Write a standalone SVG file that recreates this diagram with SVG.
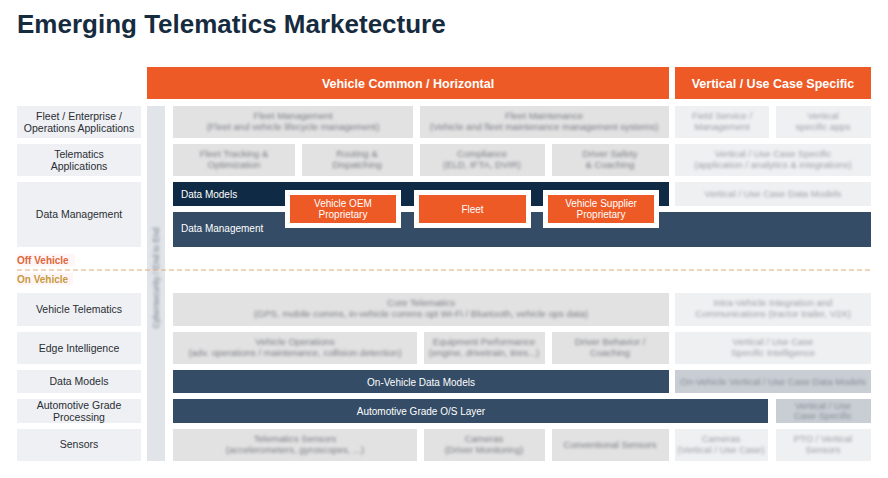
<svg xmlns="http://www.w3.org/2000/svg" width="888" height="478" viewBox="0 0 888 478">
<defs>
<filter id="blur" x="-10%" y="-40%" width="120%" height="180%"><feGaussianBlur stdDeviation="1.6"/></filter>
<filter id="soft" x="-5%" y="-20%" width="110%" height="140%"><feGaussianBlur stdDeviation="0.6"/></filter>
<style>
text{font-family:"Liberation Sans",Arial,sans-serif}
.title{font-size:26px;font-weight:bold;fill:#172b3f}
.hdr{fill:#ee5a26}
.hdrt{font-size:12.5px;font-weight:bold;fill:#fff;text-anchor:middle}
.lab{fill:#eef0f3}
.labt{font-size:10.5px;fill:#2a2e33;text-anchor:middle}
.cell{fill:#e2e2e3}
.cellt{font-size:9.5px;fill:#7a7c80;text-anchor:middle}
.rcell{fill:#eff0f2}
.rcellt{font-size:9.5px;fill:#989da4;text-anchor:middle}
.gcell{fill:#c9ced4}
.gcellt{font-size:9.5px;fill:#848b93;text-anchor:middle}
.dark{fill:#0f2a44}
.mid{fill:#344c65}
.barT{font-size:10px;fill:#fff}
.barC{font-size:10px;fill:#fff;text-anchor:middle}
.wbox{fill:#fff}
.obox{fill:#ee5a26}
.obt{font-size:10px;fill:#fff;text-anchor:middle}
</style>
</defs>
<rect width="888" height="478" fill="#fff"/>
<text class="title" x="17" y="33">Emerging Telematics Marketecture</text>

<g id="hdr-common"><rect class="hdr" x="147" y="67" width="522" height="32"/><text class="hdrt" x="408" y="87.5">Vehicle Common / Horizontal</text></g>
<g id="hdr-vertical"><rect class="hdr" x="675" y="67" width="196" height="32"/><text class="hdrt" x="773" y="87.5">Vertical / Use Case Specific</text></g>

<!-- left labels -->
<g id="lab-fleet"><rect class="lab" x="17" y="106" width="124" height="32"/><text class="labt" x="79" y="119.5">Fleet / Enterprise /</text><text class="labt" x="79" y="131.5">Operations Applications</text></g>
<g id="lab-telapps"><rect class="lab" x="17" y="144" width="124" height="32"/><text class="labt" x="79" y="157.5">Telematics</text><text class="labt" x="79" y="169.5">Applications</text></g>
<g id="lab-dm"><rect class="lab" x="17" y="182" width="124" height="65"/><text class="labt" x="79" y="218">Data Management</text></g>
<g id="lab-vt"><rect class="lab" x="17" y="293" width="124" height="33"/><text class="labt" x="79" y="313">Vehicle Telematics</text></g>
<g id="lab-edge"><rect class="lab" x="17" y="332" width="124" height="32"/><text class="labt" x="79" y="351.5">Edge Intelligence</text></g>
<g id="lab-dmod"><rect class="lab" x="17" y="370" width="124" height="23"/><text class="labt" x="79" y="385">Data Models</text></g>
<g id="lab-agp"><rect class="lab" x="17" y="399" width="124" height="24"/><text class="labt" x="79" y="409">Automotive Grade</text><text class="labt" x="79" y="420.5">Processing</text></g>
<g id="lab-sens"><rect class="lab" x="17" y="429" width="124" height="32"/><text class="labt" x="79" y="447.5">Sensors</text></g>

<!-- vertical security bar -->
<g id="secbar"><rect x="147" y="106" width="18" height="355" fill="#e1e5ea"/><text filter="url(#blur)" transform="translate(159,278) rotate(-90)" style="font-size:8.5px;fill:#6f7782;text-anchor:middle">Cybersecurity / End to End</text></g>

<!-- off/on vehicle -->
<g id="divider">
<rect x="17" y="254" width="58" height="12" fill="#fef6f6"/>
<rect x="17" y="273" width="56" height="12" fill="#fef6f6"/>
<text x="17" y="264" style="font-size:10px;font-weight:bold;fill:#e0653a">Off Vehicle</text>
<line x1="17" y1="270" x2="871" y2="270" stroke="#e2a879" stroke-width="1" stroke-dasharray="5,3"/>
<text x="17" y="283" style="font-size:10px;font-weight:bold;fill:#c89a3f">On Vehicle</text>
</g>

<!-- row 1 -->
<g id="c-fleetmgmt" filter="url(#soft)"><rect class="cell" x="173" y="106" width="240" height="32"/><text class="cellt" filter="url(#blur)" x="293" y="119">Fleet Management</text><text class="cellt" filter="url(#blur)" x="293" y="130">(Fleet and vehicle lifecycle management)</text></g>
<g id="c-fleetmaint" filter="url(#soft)"><rect class="cell" x="420" y="106" width="249" height="32"/><text class="cellt" filter="url(#blur)" x="544" y="119">Fleet Maintenance</text><text class="cellt" filter="url(#blur)" x="544" y="130">(Vehicle and fleet maintenance management systems)</text></g>
<g id="c-fieldsvc" filter="url(#soft)"><rect class="rcell" x="675" y="106" width="94" height="32"/><text class="rcellt" filter="url(#blur)" x="722" y="119">Field Service /</text><text class="rcellt" filter="url(#blur)" x="722" y="130">Management</text></g>
<g id="c-vertapps" filter="url(#soft)"><rect class="rcell" x="776" y="106" width="95" height="32"/><text class="rcellt" filter="url(#blur)" x="823" y="119">Vertical</text><text class="rcellt" filter="url(#blur)" x="823" y="130">specific apps</text></g>

<!-- row 2 -->
<g id="c-tracking" filter="url(#soft)"><rect class="cell" x="173" y="144" width="122" height="32"/><text class="cellt" filter="url(#blur)" x="234" y="157">Fleet Tracking &amp;</text><text class="cellt" filter="url(#blur)" x="234" y="168">Optimization</text></g>
<g id="c-routing" filter="url(#soft)"><rect class="cell" x="302" y="144" width="111" height="32"/><text class="cellt" filter="url(#blur)" x="357" y="157">Routing &amp;</text><text class="cellt" filter="url(#blur)" x="357" y="168">Dispatching</text></g>
<g id="c-compliance" filter="url(#soft)"><rect class="cell" x="420" y="144" width="125" height="32"/><text class="cellt" filter="url(#blur)" x="482" y="157">Compliance</text><text class="cellt" filter="url(#blur)" x="482" y="168">(ELD, IFTA, DVIR)</text></g>
<g id="c-driversafety" filter="url(#soft)"><rect class="cell" x="552" y="144" width="117" height="32"/><text class="cellt" filter="url(#blur)" x="610" y="157">Driver Safety</text><text class="cellt" filter="url(#blur)" x="610" y="168">&amp; Coaching</text></g>
<g id="c-vertapp2" filter="url(#soft)"><rect class="rcell" x="675" y="144" width="196" height="32"/><text class="rcellt" filter="url(#blur)" x="773" y="157">Vertical / Use Case Specific</text><text class="rcellt" filter="url(#blur)" x="773" y="168">(application / analytics &amp; integrations)</text></g>

<!-- row 3 data -->
<g id="b-datamodels"><rect class="dark" x="173" y="182" width="496" height="24"/><text class="barT" x="181" y="198">Data Models</text></g>
<g id="c-vertdm" filter="url(#soft)"><rect class="rcell" x="675" y="182" width="196" height="24"/><text class="rcellt" filter="url(#blur)" x="773" y="197">Vertical / Use Case Data Models</text></g>
<g id="b-datamgmt"><rect class="mid" x="173" y="212" width="698" height="35"/><text class="barT" x="181" y="232">Data Management</text></g>
<g id="o-oem"><rect class="wbox" x="285" y="190" width="116" height="38"/><rect class="obox" x="290" y="195" width="106" height="28"/><text class="obt" x="343" y="207">Vehicle OEM</text><text class="obt" x="343" y="217.5">Proprietary</text></g>
<g id="o-fleet"><rect class="wbox" x="414" y="190" width="117" height="38"/><rect class="obox" x="419" y="195" width="107" height="28"/><text class="obt" x="472.5" y="212.5">Fleet</text></g>
<g id="o-supplier"><rect class="wbox" x="543" y="190" width="116" height="38"/><rect class="obox" x="548" y="195" width="106" height="28"/><text class="obt" x="601" y="207">Vehicle Supplier</text><text class="obt" x="601" y="217.5">Proprietary</text></g>

<!-- row 4 -->
<g id="c-core" filter="url(#soft)"><rect class="cell" x="173" y="293" width="496" height="33"/><text class="cellt" filter="url(#blur)" x="421" y="306">Core Telematics</text><text class="cellt" filter="url(#blur)" x="421" y="317">(GPS, mobile comms, in-vehicle comms opt Wi-Fi / Bluetooth, vehicle ops data)</text></g>
<g id="c-intra" filter="url(#soft)"><rect class="rcell" x="675" y="293" width="196" height="33"/><text class="rcellt" filter="url(#blur)" x="773" y="306">Intra-Vehicle Integration and</text><text class="rcellt" filter="url(#blur)" x="773" y="317">Communications (tractor trailer, V2X)</text></g>

<!-- row 5 -->
<g id="c-vehops" filter="url(#soft)"><rect class="cell" x="173" y="332" width="244" height="32"/><text class="cellt" filter="url(#blur)" x="295" y="345">Vehicle Operations</text><text class="cellt" filter="url(#blur)" x="295" y="356">(adv. operations / maintenance, collision detection)</text></g>
<g id="c-equip" filter="url(#soft)"><rect class="cell" x="424" y="332" width="121" height="32"/><text class="cellt" filter="url(#blur)" x="484" y="345">Equipment Performance</text><text class="cellt" filter="url(#blur)" x="484" y="356">(engine, drivetrain, tires...)</text></g>
<g id="c-driverbeh" filter="url(#soft)"><rect class="cell" x="552" y="332" width="117" height="32"/><text class="cellt" filter="url(#blur)" x="610" y="345">Driver Behavior /</text><text class="cellt" filter="url(#blur)" x="610" y="356">Coaching</text></g>
<g id="c-vertintel" filter="url(#soft)"><rect class="rcell" x="675" y="332" width="196" height="32"/><text class="rcellt" filter="url(#blur)" x="773" y="345">Vertical / Use Case</text><text class="rcellt" filter="url(#blur)" x="773" y="356">Specific Intelligence</text></g>

<!-- row 6 -->
<g id="b-onveh"><rect class="mid" x="173" y="370" width="496" height="23"/><text class="barC" x="421" y="385.5">On-Vehicle Data Models</text></g>
<g id="c-onvehvert" filter="url(#soft)"><rect class="gcell" x="675" y="370" width="196" height="23"/><text class="gcellt" filter="url(#blur)" x="773" y="385">On-Vehicle Vertical / Use Case Data Models</text></g>

<!-- row 7 -->
<g id="b-os"><rect class="mid" x="173" y="399" width="595" height="24"/><text class="barC" x="421" y="414.5">Automotive Grade O/S Layer</text></g>
<g id="c-osvert" filter="url(#soft)"><rect class="gcell" x="776" y="399" width="95" height="24"/><text class="gcellt" filter="url(#blur)" x="823" y="409">Vertical / Use</text><text class="gcellt" filter="url(#blur)" x="823" y="419">Case Specific</text></g>

<!-- row 8 -->
<g id="c-telsens" filter="url(#soft)"><rect class="cell" x="173" y="429" width="244" height="32"/><text class="cellt" filter="url(#blur)" x="295" y="442">Telematics Sensors</text><text class="cellt" filter="url(#blur)" x="295" y="453">(accelerometers, gyroscopes, ...)</text></g>
<g id="c-cameras" filter="url(#soft)"><rect class="cell" x="424" y="429" width="121" height="32"/><text class="cellt" filter="url(#blur)" x="484" y="442">Cameras</text><text class="cellt" filter="url(#blur)" x="484" y="453">(Driver Monitoring)</text></g>
<g id="c-conv" filter="url(#soft)"><rect class="cell" x="552" y="429" width="117" height="32"/><text class="cellt" filter="url(#blur)" x="610" y="448">Conventional Sensors</text></g>
<g id="c-camvert" filter="url(#soft)"><rect class="rcell" x="675" y="429" width="93" height="32"/><text class="rcellt" filter="url(#blur)" x="721" y="442">Cameras</text><text class="rcellt" filter="url(#blur)" x="721" y="453">(Vertical / Use Case)</text></g>
<g id="c-pto" filter="url(#soft)"><rect class="rcell" x="776" y="429" width="95" height="32"/><text class="rcellt" filter="url(#blur)" x="823" y="442">PTO / Vertical</text><text class="rcellt" filter="url(#blur)" x="823" y="453">Sensors</text></g>

<g id="connectors"/>
</svg>
